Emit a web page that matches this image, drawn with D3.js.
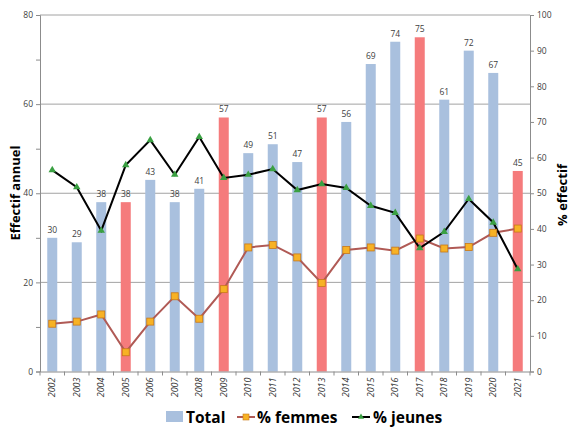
<!DOCTYPE html>
<html><head><meta charset="utf-8">
<script src="https://cdn.jsdelivr.net/npm/d3@7"></script>
<style>body{margin:0;background:#fff}svg{display:block}</style>
</head><body>
<svg id="c" width="573" height="427"></svg>
<script>
const years = ["2002","2003","2004","2005","2006","2007","2008","2009","2010","2011","2012","2013","2014","2015","2016","2017","2018","2019","2020","2021"];
const total = [30,29,38,38,43,38,41,57,49,51,47,57,56,69,74,75,61,72,67,45];
const highlighted = ["2005","2009","2013","2017","2021"];
const femmes = [13.4,14.0,16.0,5.4,14.0,21.1,14.8,23.1,34.8,35.5,32.0,24.8,34.1,34.8,33.9,37.3,34.5,34.9,38.9,40.1];
const jeunes = [56.5,51.7,39.5,57.9,64.9,55.2,65.8,54.3,55.2,56.8,50.9,52.6,51.5,46.5,44.5,34.6,39.2,48.4,41.8,28.7];
const leftTicks = [0,20,40,60,80];
const rightTicks = [0,10,20,30,40,50,60,70,80,90,100];

const svg = d3.select("#c");
const L=40, R=530, T=15, B=371.5;
const x = d3.scaleBand().domain(years).range([L,R]).paddingInner(0.6).paddingOuter(0.3);
const yL = d3.scaleLinear().domain([0,80]).range([B,T]);
const yR = d3.scaleLinear().domain([0,100]).range([B,T]);
const font = "'Open Sans', 'DejaVu Sans', sans-serif";

// gridlines
svg.append("g").selectAll("line").data(leftTicks.filter(d=>d>0)).join("line")
  .attr("x1",L).attr("x2",R).attr("y1",d=>yL(d)).attr("y2",d=>yL(d))
  .attr("stroke","#8c8c8c").attr("stroke-width",0.8);

// bars
const cx = d => x(d)+x.bandwidth()/2;
const bw = 10;
svg.append("g").selectAll("rect").data(years).join("rect")
  .attr("x",(d)=>cx(d)-bw/2).attr("width",bw)
  .attr("y",(d,i)=>yL(total[i])).attr("height",(d,i)=>B-yL(total[i]))
  .attr("fill",d=>highlighted.includes(d)?"#f57b7c":"#a9c0de");

svg.append("g").selectAll("text").data(years).join("text")
  .attr("x",cx).attr("y",(d,i)=>yL(total[i])-5)
  .attr("text-anchor","middle").attr("font-family",font).attr("font-size",8.5)
  .attr("fill","#404040").text((d,i)=>total[i]);

// axes
const axL = svg.append("g").attr("transform",`translate(${L},0)`)
  .call(d3.axisLeft(yL).tickValues(d3.range(0,81,10)).tickSize(4).tickFormat(d=>d%20===0?d:""));
const axR = svg.append("g").attr("transform",`translate(${R},0)`)
  .call(d3.axisRight(yR).tickValues(rightTicks).tickSize(4));
const axB = svg.append("g").attr("transform",`translate(0,${B})`)
  .call(d3.axisBottom(x).tickSize(0).tickSizeOuter(0));
[axL,axR].forEach(a=>{
  a.select(".domain").attr("stroke","#8c8c8c");
  a.selectAll(".tick line").attr("stroke","#8c8c8c");
  a.selectAll(".tick text").attr("font-family",font).attr("font-size",8.5).attr("fill","#404040");
});
axB.select(".domain").attr("stroke","#8c8c8c");
// bottom ticks between categories
svg.append("g").selectAll("line").data(years.concat(["end"])).join("line")
  .attr("x1",(d,i)=>L+(R-L)/years.length*i).attr("x2",(d,i)=>L+(R-L)/years.length*i)
  .attr("y1",B).attr("y2",B+4).attr("stroke","#8c8c8c");
axB.selectAll(".tick text")
  .attr("transform","rotate(-90)").attr("text-anchor","end")
  .attr("x",-6).attr("y",0).attr("dy","0.35em")
  .attr("font-family",font).attr("font-size",9).attr("font-style","italic").attr("fill","#303030");

// lines
const lineF = d3.line().x((d,i)=>cx(years[i])).y(d=>yR(d));
svg.append("path").datum(femmes).attr("d",lineF).attr("fill","none")
  .attr("stroke","#b05a55").attr("stroke-width",2);
svg.append("path").datum(jeunes).attr("d",lineF).attr("fill","none")
  .attr("stroke","#000").attr("stroke-width",2);
svg.append("g").selectAll("rect").data(femmes).join("rect")
  .attr("x",(d,i)=>cx(years[i])-3.5).attr("y",d=>yR(d)-3.5).attr("width",7).attr("height",7)
  .attr("fill","#f7b225").attr("stroke","#c8781a").attr("stroke-width",0.8);
const tri = d3.symbol().type(d3.symbolTriangle).size(24);
svg.append("g").selectAll("path").data(jeunes).join("path")
  .attr("transform",(d,i)=>`translate(${cx(years[i])},${yR(d)})`).attr("d",tri)
  .attr("fill","#3aa042");

// axis titles
svg.append("text").attr("transform","translate(20,193) rotate(-90)").attr("text-anchor","middle")
  .attr("font-family",font).attr("font-weight","bold").attr("font-size",13).attr("fill","#000").text("Effectif annuel");
svg.append("text").attr("transform","translate(567,195) rotate(-90)").attr("text-anchor","middle")
  .attr("font-family",font).attr("font-weight","bold").attr("font-size",13).attr("fill","#000").text("% effectif");

// legend
const lg = svg.append("g").attr("font-family",font).attr("font-weight","bold").attr("font-size",15.5).attr("fill","#000");
lg.append("rect").attr("x",166).attr("y",411).attr("width",17).attr("height",11).attr("fill","#a9c0de");
lg.append("text").attr("x",186).attr("y",422.5).text("Total");
lg.append("line").attr("x1",237).attr("x2",255).attr("y1",417).attr("y2",417).attr("stroke","#b05a55").attr("stroke-width",2);
lg.append("rect").attr("x",243).attr("y",414).attr("width",6).attr("height",6).attr("fill","#f7b225").attr("stroke","#c8781a").attr("stroke-width",0.6);
lg.append("text").attr("x",257).attr("y",422.5).text("% femmes");
lg.append("line").attr("x1",352).attr("x2",370).attr("y1",417).attr("y2",417).attr("stroke","#000").attr("stroke-width",2);
lg.append("path").attr("transform","translate(361,417)").attr("d",d3.symbol().type(d3.symbolTriangle).size(16)).attr("fill","#3aa042");
lg.append("text").attr("x",373).attr("y",422.5).text("% jeunes");
</script>
</body></html>
